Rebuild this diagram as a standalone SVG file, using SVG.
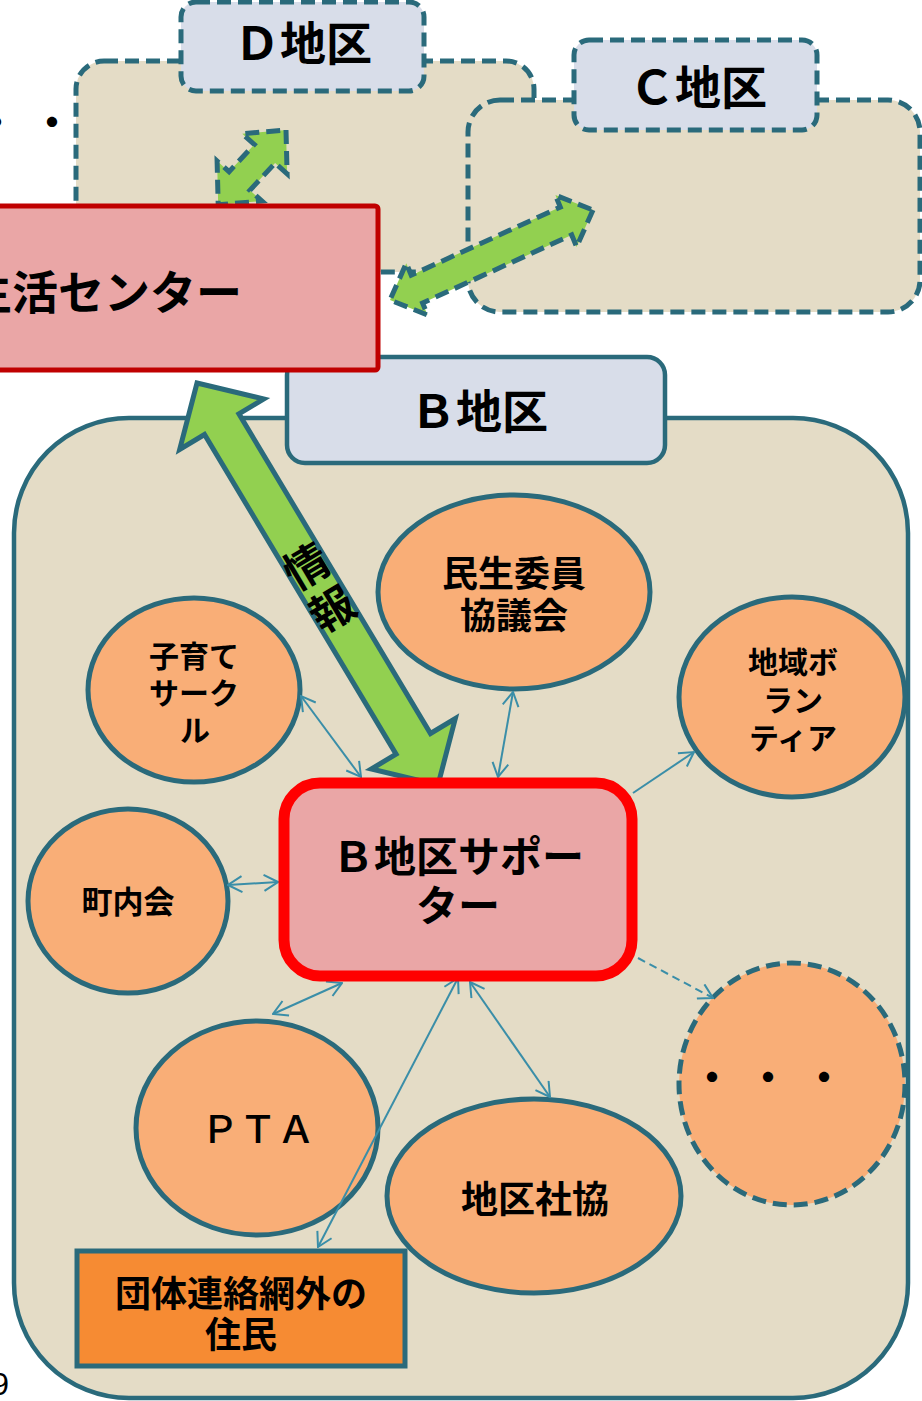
<svg xmlns="http://www.w3.org/2000/svg" width="922" height="1401" viewBox="0 0 922 1401">
<defs>
<style>
.dbox{fill:#e4dcc6;stroke:#2a6a7b;stroke-width:5;stroke-dasharray:14 7}
.dlbl{fill:#d8dde9;stroke:#2a6a7b;stroke-width:5;stroke-dasharray:14 7}
.ell{fill:#f9ae77;stroke:#2a6a7b;stroke-width:5}
.t{font-family:"Noto Sans CJK JP","Noto Sans",sans-serif;font-weight:700;fill:#000;text-anchor:middle}
.conn{stroke:#3a8ea8;stroke-width:2;fill:none}
.garrow{fill:#92d050;stroke:#2a6a7b;stroke-width:5;stroke-dasharray:14 7;stroke-linejoin:miter}
</style>
<marker id="ah" viewBox="0 0 16 18" refX="15" refY="9" markerWidth="16" markerHeight="18" markerUnits="userSpaceOnUse" orient="auto-start-reverse">
<path d="M1,1 L15,9 L1,17" fill="none" stroke="#3a8ea8" stroke-width="2"/>
</marker>
</defs>
<rect width="922" height="1401" fill="#ffffff"/>

<g id="d-district">
<rect class="dbox" x="76" y="61" width="458" height="211" rx="28"/>
</g>
<g id="c-district">
<rect class="dbox" x="468" y="100" width="452" height="212" rx="32"/>
</g>
<g id="d-label">
<rect class="dlbl" x="181" y="2" width="243" height="89" rx="15"/>
<text class="t" x="303" y="60" font-size="46">Ｄ地区</text>
</g>
<g id="c-label">
<rect class="dlbl" x="574" y="40" width="243" height="90" rx="15"/>
<text class="t" x="698" y="104" font-size="46">Ｃ地区</text>
</g>

<g id="b-district">
<rect x="14" y="418" width="894" height="980" rx="115" fill="#e4dcc6" stroke="#2a6a7b" stroke-width="4.5"/>
</g>
<g id="b-label">
<rect x="287" y="357" width="378" height="106" rx="18" fill="#d8dde9" stroke="#2a6a7b" stroke-width="4.5"/>
<text class="t" x="479" y="428" font-size="46">Ｂ地区</text>
</g>

<g id="minsei">
<ellipse class="ell" cx="514" cy="592" rx="136" ry="97"/>
<text class="t" font-size="36"><tspan x="514" y="587">民生委員</tspan><tspan x="514" y="629">協議会</tspan></text>
</g>
<g id="kosodate">
<ellipse class="ell" cx="194" cy="690" rx="106" ry="92"/>
<text class="t" font-size="30"><tspan x="194" y="667">子育て</tspan><tspan x="194" y="704">サーク</tspan><tspan x="195" y="741">ル</tspan></text>
</g>
<g id="volunteer">
<ellipse class="ell" cx="792" cy="697" rx="113" ry="100"/>
<text class="t" font-size="30"><tspan x="793" y="673">地域ボ</tspan><tspan x="793" y="711">ラン</tspan><tspan x="793" y="749">ティア</tspan></text>
</g>
<g id="chonaikai">
<ellipse class="ell" cx="128" cy="901" rx="100" ry="92"/>
<text class="t" x="128" y="913" font-size="31">町内会</text>
</g>
<g id="pta">
<ellipse class="ell" cx="257" cy="1128" rx="121" ry="107"/>
<text class="t" x="258" y="1143" font-size="38" style="font-weight:500">ＰＴＡ</text>
</g>
<g id="shakyo">
<ellipse class="ell" cx="534" cy="1196" rx="147" ry="97"/>
<text class="t" x="535" y="1213" font-size="37">地区社協</text>
</g>
<g id="others">
<ellipse cx="792" cy="1084" rx="113" ry="121" fill="#f9ae77" stroke="#2a6a7b" stroke-width="5" stroke-dasharray="14 7"/>
<text class="t" x="692" y="1092" font-size="40" letter-spacing="16" style="text-anchor:start">・・・</text>
</g>
<g id="residents">
<rect x="77" y="1251" width="328" height="115" fill="#f68b33" stroke="#2a6a7b" stroke-width="5"/>
<text class="t" font-size="36"><tspan x="241" y="1307">団体連絡網外の</tspan><tspan x="241" y="1348">住民</tspan></text>
</g>

<g id="connectors">
<polygon class="garrow" points="286,130 287.1,173.8 275.1,163.1 249.9,190.3 261.9,201 218.2,204.8 217.1,161 229.1,171.7 254.3,144.5 242.3,133.8"/>
<polygon class="garrow" points="593,210 576.6,246.9 571.7,234.9 422.6,303 427.5,315 390,300 406.3,263.2 411.2,275.2 560.3,207.1 555.4,195.1"/>
<g id="info-arrow">
<polygon points="197,383 263.7,399 238.9,413.9 430.5,733.5 455.3,718.6 438,785 371.3,769 396.1,754.1 204.5,434.5 179.7,449.4" fill="#92d050" stroke="#2a6a7b" stroke-width="5" stroke-linejoin="miter"/>
<text class="t" font-size="44" transform="translate(320,589) rotate(-31)"><tspan x="0" y="-10">情</tspan><tspan x="0" y="40">報</tspan></text>
</g>
<line class="conn" x1="301" y1="696" x2="361" y2="777" marker-start="url(#ah)" marker-end="url(#ah)"/>
<line class="conn" x1="513" y1="692" x2="498" y2="777" marker-start="url(#ah)" marker-end="url(#ah)"/>
<line class="conn" x1="633" y1="793" x2="694" y2="752" marker-end="url(#ah)"/>
<line class="conn" x1="228" y1="885" x2="278" y2="882" marker-start="url(#ah)" marker-end="url(#ah)"/>
<line class="conn" x1="342" y1="983" x2="273" y2="1014" marker-start="url(#ah)" marker-end="url(#ah)"/>
<line class="conn" x1="458" y1="978" x2="318" y2="1247" marker-start="url(#ah)" marker-end="url(#ah)"/>
<line class="conn" x1="470" y1="982" x2="550" y2="1097" marker-start="url(#ah)" marker-end="url(#ah)"/>
<line class="conn" x1="638" y1="958" x2="713" y2="998" stroke-dasharray="8 5" marker-end="url(#ah)"/>
</g>

<g id="center-box">
<rect x="-10" y="206" width="388" height="164" rx="3" fill="#eaa6a6" stroke="#c00000" stroke-width="5"/>
<text class="t" x="242" y="309" font-size="46" style="text-anchor:end">生活センター</text>
</g>
<g id="b-supporter">
<rect x="284" y="783" width="348" height="193" rx="36" fill="#eaa6a6" stroke="#ff0000" stroke-width="11"/>
<text class="t" font-size="42"><tspan x="458" y="872">Ｂ地区サポー</tspan><tspan x="458" y="921">ター</tspan></text>
</g>

<text class="t" x="-24" y="137" font-size="40" letter-spacing="16" style="text-anchor:start">・・</text>
<text x="9" y="1395" font-family="Liberation Sans, sans-serif" font-size="32" text-anchor="end">9</text>
</svg>
